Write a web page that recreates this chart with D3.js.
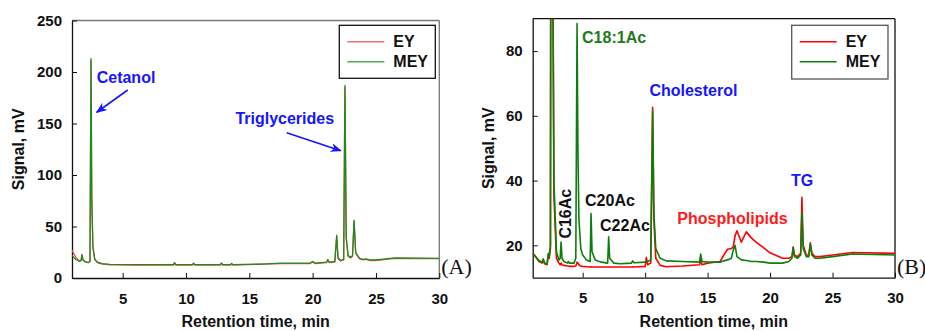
<!DOCTYPE html>
<html><head><meta charset="utf-8">
<script src="https://cdn.jsdelivr.net/npm/d3@7"></script>
<style>
body{margin:0;background:#fff;}
svg{display:block;font-family:"Liberation Sans",Arial,sans-serif;}
</style></head>
<body><svg id="c" width="925" height="331"></svg>
<script>
// ---------- Panel A data ----------
const aTime = [1.0,1.3,1.6,1.72,1.78,1.85,2.0,2.3,2.42,2.5,2.56,2.65,2.8,3.0,3.4,4.0,6.0,8.0,9.0,9.1,9.2,10.5,10.6,10.7,12.7,12.8,12.9,13.5,13.6,13.7,16.0,17.5,19.8,20.0,20.2,21.1,21.2,21.3,21.75,21.9,22.0,22.2,22.45,22.55,22.65,22.8,23.0,23.15,23.27,23.4,23.7,24.0,24.2,24.5,25.0,26.5,30.0];
const aMEY = [22,18,16,17,23,18,16,15,16,213,80,30,18,15.5,14,13.3,13,13,13,15,13,13,14.5,13,13,14.5,13,13,14,13,13.5,14.5,14.5,16,14.5,15.5,18,15.5,16,41.5,20,17,18,187,40,22,20,22,56,25,19,18,18.5,17.5,17.5,19.5,19];
const aEY  = [27,20,16.5,17,22,18,16,15,16,211,78,30,18,15,13.5,12.8,12.5,12.5,12.5,14,12.5,12.5,14,12.5,12.5,14.5,12.5,12.5,13.5,12.5,13.5,14,14,15.5,14,15,17.5,15,15.5,40,19,16.5,17.5,185,38,21,19.5,21,55,24,18.5,17.5,18,17,17,19,18.8];

// ---------- Panel B data ----------
const bTime = [1.0,1.5,1.75,1.85,1.95,2.15,2.25,2.32,2.42,2.5,2.6,2.7,2.9,3.1,3.2,3.27,3.35,3.5,3.8,3.85,3.95,4.3,4.45,4.55,4.62,4.7,4.85,5.0,5.3,5.6,5.67,5.75,6.0,6.5,7.0,7.08,7.16,7.5,8.0,8.9,9.0,9.1,10.0,10.1,10.2,10.45,10.6,10.7,10.85,11.2,11.7,13.0,14.35,14.45,14.55,15.0,16.0,16.3,16.6,16.9,17.05,17.2,17.35,17.7,18.1,18.5,18.9,19.5,20.0,21.0,21.5,21.75,21.85,21.95,22.2,22.45,22.55,22.65,22.9,23.1,23.22,23.35,23.6,24.0,25.0,26.6,30.0];
const bMEY = [17.6,15.3,14.8,15.8,14.5,14.3,17.5,16.5,20,300,120,40,18,15.5,16,21,16,15,14.5,15,14.5,14.5,16,88.5,50,28,19,17,15.5,15,29.8,18,15.5,14.8,14.5,22.6,16,14.5,14.3,14.5,15.2,14.6,14.8,15,15,15.5,61.5,30,19,16,15.2,15,14.8,17.3,15,14.8,14.8,15.2,15.5,16,18.5,20,16.5,15.5,15.3,15,15,14.8,14.5,14.5,15,16,19.3,16.5,16,17,30.3,19,16.5,16.5,20.3,17,16,16,16.5,17.3,17];
const bEY  = [17.6,15,14.5,15.5,14.3,14,17,16,19,300,110,35,16,14.5,14,14.5,14,13.8,13.6,13.6,13.5,13.5,13.6,14.8,14.5,14,13.6,13.5,13.4,13.3,13.4,13.3,13.3,13.3,13.3,13.3,13.3,13.3,13.3,13.3,13.4,13.3,13.5,16.3,14,14.5,62.6,28,16,13.8,13.4,13.6,14,15.5,14,14.5,15,17,18.8,19,19.5,23,24.5,21,24.2,22.3,20.9,19.2,17.7,16,16,16.5,19.5,17,16.5,17.5,34.8,20,17,17,20.8,17.5,16.5,16.5,17,17.8,17.5];

// ---------- Axes / labels ----------
const xTicks = [5,10,15,20,25,30];
const aYTicks = [0,50,100,150,200,250];
const bYTicks = [20,40,60,80];
const seriesNames = ["EY","MEY"];
const xTitle = "Retention time, min";
const yTitle = "Signal, mV";

// annotations (data coordinates)
const aNotes = [
  {text:"Cetanol", t:2.95, v:194.2, color:"#1515ff"},
  {text:"Triglycerides", t:13.9, v:154.4, color:"#1515ff"}
];
const aArrows = [
  {t1:5.40, v1:182.5, t2:2.95, v2:160.9},
  {t1:17.95, v1:141.1, t2:22.22, v2:123.6}
];
const bNotes = [
  {text:"C18:1Ac", t:4.95, v:84.25, color:"#1f7a1f"},
  {text:"Cholesterol", t:10.34, v:67.76, color:"#1515ff"},
  {text:"C16Ac", t:3.61, v:29.77, color:"#111", rotate:true},
  {text:"C20Ac", t:5.19, v:34.0, color:"#111"},
  {text:"C22Ac", t:6.39, v:25.97, color:"#111"},
  {text:"Phospholipids", t:12.58, v:28.35, color:"#ff1a1a"},
  {text:"TG", t:21.68, v:39.87, color:"#1515ff"}
];

const svg = d3.select("#c");
const defs = svg.append("defs");
defs.append("marker").attr("id","arr").attr("viewBox","0 0 10 10").attr("refX",9).attr("refY",5)
  .attr("markerWidth",7).attr("markerHeight",7).attr("orient","auto")
  .append("path").attr("d","M0,1 L10,5 L0,9 L3,5 Z").attr("fill","#1515ff");

function panel(cfg){
  const x = d3.scaleLinear().domain([1,30]).range([cfg.left,cfg.right]);
  const y = d3.scaleLinear().domain(cfg.yDomain).range([cfg.bottom,cfg.top]);
  const g = svg.append("g");
  const clipId = "clip"+cfg.id;
  defs.append("clipPath").attr("id",clipId).append("rect")
    .attr("x",cfg.left).attr("y",cfg.top).attr("width",cfg.right-cfg.left).attr("height",cfg.bottom-cfg.top);

  // frame top/right
  g.append("line").attr("x1",cfg.left).attr("x2",cfg.right).attr("y1",cfg.top).attr("y2",cfg.top)
    .attr("stroke",cfg.frameColor).attr("stroke-width",1.3);
  g.append("line").attr("x1",cfg.right).attr("x2",cfg.right).attr("y1",cfg.top).attr("y2",cfg.bottom)
    .attr("stroke",cfg.frameColor).attr("stroke-width",1.3);

  // axes
  const xAxis = d3.axisBottom(x).tickValues(xTicks).tickSizeInner(-5).tickSizeOuter(0).tickPadding(12);
  const yAxis = d3.axisLeft(y).tickValues(cfg.yTicks).tickSizeInner(-5).tickSizeOuter(0).tickPadding(10);
  const gx = g.append("g").attr("transform",`translate(0,${cfg.bottom})`).call(xAxis);
  const gy = g.append("g").attr("transform",`translate(${cfg.left},0)`).call(yAxis);
  [gx,gy].forEach(a=>{
    a.select(".domain").attr("stroke","#111").attr("stroke-width",1.3);
    a.selectAll(".tick line").attr("stroke","#111").attr("stroke-width",1);
    a.selectAll(".tick text").attr("font-size",15).attr("font-weight","bold").attr("fill","#111")
      .attr("font-family","Liberation Sans, Arial, sans-serif");
  });
  gx.selectAll(".tick text").attr("dy","0.9em");

  // titles
  g.append("text").attr("x",(cfg.left+cfg.right)/2).attr("y",327).attr("text-anchor","middle")
    .attr("font-size",16).attr("font-weight","bold").attr("fill","#111").text(xTitle);
  g.append("text").attr("transform",`translate(${cfg.yTitleX},${(cfg.top+cfg.bottom)/2}) rotate(-90)`)
    .attr("text-anchor","middle").attr("dominant-baseline","central")
    .attr("font-size",16).attr("font-weight","bold").attr("fill","#111").text(yTitle);

  // lines
  const lineGen = vals => d3.line().x((d,i)=>x(cfg.time[i])).y(d=>y(d))(vals);
  const lg = g.append("g").attr("clip-path",`url(#${clipId})`);
  cfg.series.forEach(s=>{
    lg.append("path").attr("d",lineGen(s.values)).attr("fill","none")
      .attr("stroke",s.color).attr("stroke-width",cfg.lw).attr("stroke-linejoin","round");
  });

  // panel label
  g.append("text").attr("x",cfg.right+2).attr("y",cfg.bottom-4).attr("font-family","Liberation Serif, Times New Roman, serif")
    .attr("font-size",22).attr("fill","#111").text(cfg.label);

  // legend
  const L = cfg.legend;
  g.append("rect").attr("x",L.x).attr("y",L.y).attr("width",L.w).attr("height",L.h)
    .attr("fill","#fff").attr("stroke",L.stroke).attr("stroke-width",1.3);
  cfg.series.forEach((s,i)=>{
    const yy = L.y + 16.5 + i*20;
    g.append("line").attr("x1",L.x+8).attr("x2",L.x+45).attr("y1",yy).attr("y2",yy)
      .attr("stroke",s.legendColor).attr("stroke-width",1.5);
    g.append("text").attr("x",L.x+54).attr("y",yy).attr("dominant-baseline","central")
      .attr("font-size",16).attr("font-weight","bold").attr("fill","#111").text(seriesNames[i]);
  });

  // notes
  cfg.notes.forEach(n=>{
    const t = g.append("text").attr("font-size",16).attr("font-weight","bold").attr("fill",n.color)
      .attr("dominant-baseline","central").text(n.text);
    if(n.rotate){
      t.attr("text-anchor","middle").attr("transform",`translate(${x(n.t)},${y(n.v)}) rotate(-90)`);
    } else {
      t.attr("x",x(n.t)).attr("y",y(n.v));
    }
  });
  (cfg.arrows||[]).forEach(a=>{
    g.append("line").attr("x1",x(a.t1)).attr("y1",y(a.v1)).attr("x2",x(a.t2)).attr("y2",y(a.v2))
      .attr("stroke","#1515ff").attr("stroke-width",1.6).attr("marker-end","url(#arr)");
  });
}

panel({id:"A", left:72, right:439.3, top:20.5, bottom:278, yDomain:[0,250], yTicks:aYTicks,
  yTitleX:18, frameColor:"#777", time:aTime, lw:1.3, label:"(A)",
  series:[{values:aEY,color:"#f05050",legendColor:"#f07070"},{values:aMEY,color:"#1e8a1e",legendColor:"#4caf50"}],
  legend:{x:339.3,y:25.3,w:96,h:53,stroke:"#111"},
  notes:aNotes, arrows:aArrows});

panel({id:"B", left:532.7, right:895, top:18.7, bottom:277.7, yDomain:[10,90], yTicks:bYTicks,
  yTitleX:488.3, frameColor:"#111", time:bTime, lw:1.6, label:"(B)",
  series:[{values:bEY,color:"#ff0000",legendColor:"#ff0000"},{values:bMEY,color:"#0a800a",legendColor:"#0a800a"}],
  legend:{x:791.7,y:25.3,w:96.3,h:53.7,stroke:"#555"},
  notes:bNotes});
</script></body></html>
